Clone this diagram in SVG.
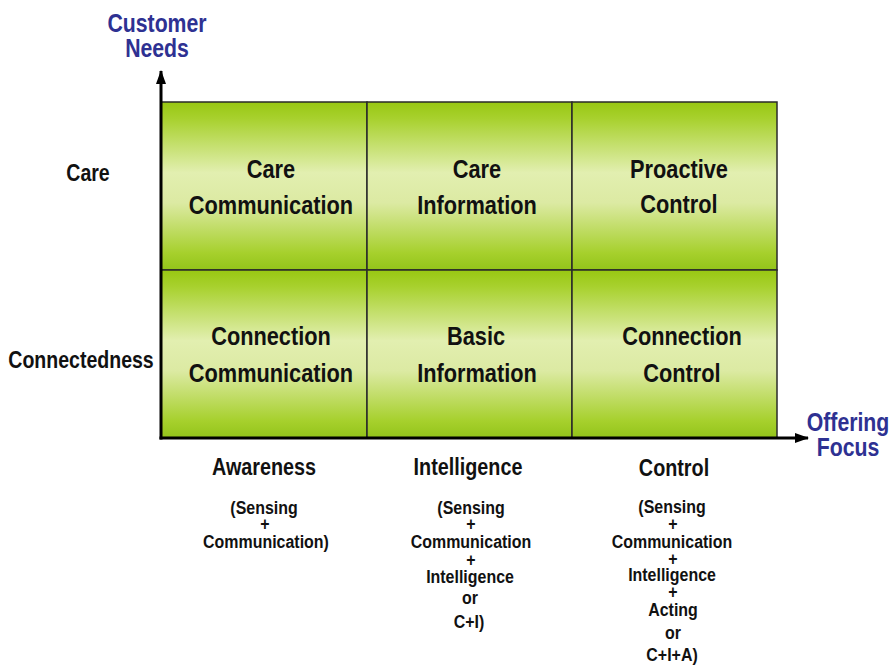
<svg xmlns="http://www.w3.org/2000/svg" width="894" height="670" viewBox="0 0 894 670">
<defs>
<linearGradient id="cellGrad" x1="0" y1="0" x2="0" y2="1">
<stop offset="0" stop-color="#98C712"/>
<stop offset="0.1" stop-color="#A8D12E"/>
<stop offset="0.42" stop-color="#E2EFB0"/>
<stop offset="0.6" stop-color="#DCEAA3"/>
<stop offset="0.9" stop-color="#A6D02C"/>
<stop offset="1" stop-color="#93C41A"/>
</linearGradient>
<marker id="arrow" viewBox="0 0 14 10" refX="13" refY="5" markerWidth="14" markerHeight="10" markerUnits="userSpaceOnUse" orient="auto">
<path d="M0,0 L14,5 L0,10 Z" fill="#000"/>
</marker>
<style>
.cell { fill: url(#cellGrad); stroke: #2a2a2a; stroke-width: 1.5; }
.t { font-family: "Liberation Sans", Arial, sans-serif; font-weight: bold; fill: #111; text-anchor: middle; }
.big { font-size: 25px; }
.lab { font-size: 23px; }
.sm { font-size: 19px; }
.blue { font-family: "Liberation Sans", Arial, sans-serif; font-weight: bold; fill: #2E3192; text-anchor: middle; font-size: 25px; }
.axis { stroke: #000; stroke-width: 3; fill: none; marker-end: url(#arrow); }
</style>
</defs>
<rect width="894" height="670" fill="#fff"/>

<g id="cell-care-communication">
<rect class="cell" x="161" y="102" width="206" height="168"/>
<text class="t big" transform="matrix(0.87,0,0,1,271,178)">Care</text>
<text class="t big" transform="matrix(0.87,0,0,1,271,214)">Communication</text>
</g>
<g id="cell-care-information">
<rect class="cell" x="367" y="102" width="205" height="168"/>
<text class="t big" transform="matrix(0.87,0,0,1,477,178)">Care</text>
<text class="t big" transform="matrix(0.87,0,0,1,477,214)">Information</text>
</g>
<g id="cell-proactive-control">
<rect class="cell" x="572" y="102" width="205" height="168"/>
<text class="t big" transform="matrix(0.87,0,0,1,679,178)">Proactive</text>
<text class="t big" transform="matrix(0.87,0,0,1,679,213)">Control</text>
</g>
<g id="cell-connection-communication">
<rect class="cell" x="161" y="270" width="206" height="168"/>
<text class="t big" transform="matrix(0.87,0,0,1,271,345)">Connection</text>
<text class="t big" transform="matrix(0.87,0,0,1,271,382)">Communication</text>
</g>
<g id="cell-basic-information">
<rect class="cell" x="367" y="270" width="205" height="168"/>
<text class="t big" transform="matrix(0.87,0,0,1,476,345)">Basic</text>
<text class="t big" transform="matrix(0.87,0,0,1,477,382)">Information</text>
</g>
<g id="cell-connection-control">
<rect class="cell" x="572" y="270" width="205" height="168"/>
<text class="t big" transform="matrix(0.87,0,0,1,682,345)">Connection</text>
<text class="t big" transform="matrix(0.87,0,0,1,682,382)">Control</text>
</g>

<g id="connectors">
<line class="axis" x1="161" y1="439.5" x2="161" y2="71"/>
<line class="axis" x1="159.5" y1="438" x2="808" y2="438"/>
</g>

<g id="y-axis-title">
<text class="blue" transform="matrix(0.85,0,0,1,157,32)">Customer</text>
<text class="blue" transform="matrix(0.85,0,0,1,157,57)">Needs</text>
</g>
<g id="x-axis-title">
<text class="blue" transform="matrix(0.85,0,0,1,848,431)">Offering</text>
<text class="blue" transform="matrix(0.85,0,0,1,848,456)">Focus</text>
</g>

<g id="row-label-care">
<text class="t lab" transform="matrix(0.85,0,0,1,88,181)">Care</text>
</g>
<g id="row-label-connectedness">
<text class="t lab" transform="matrix(0.85,0,0,1,81,368)">Connectedness</text>
</g>

<g id="col-awareness">
<text class="t lab" transform="matrix(0.86,0,0,1,264,475)">Awareness</text>
<text class="t sm" transform="matrix(0.84,0,0,1,264,514)">(Sensing</text>
<text class="t sm" transform="matrix(0.84,0,0,1,265,530)">+</text>
<text class="t sm" transform="matrix(0.84,0,0,1,266,548)">Communication)</text>
</g>
<g id="col-intelligence">
<text class="t lab" transform="matrix(0.86,0,0,1,468,475)">Intelligence</text>
<text class="t sm" transform="matrix(0.84,0,0,1,471,514)">(Sensing</text>
<text class="t sm" transform="matrix(0.84,0,0,1,471,530)">+</text>
<text class="t sm" transform="matrix(0.84,0,0,1,471,548)">Communication</text>
<text class="t sm" transform="matrix(0.84,0,0,1,471,566)">+</text>
<text class="t sm" transform="matrix(0.84,0,0,1,470,583)">Intelligence</text>
<text class="t sm" transform="matrix(0.84,0,0,1,470,604)">or</text>
<text class="t sm" transform="matrix(0.84,0,0,1,469,628)">C+I)</text>
</g>
<g id="col-control">
<text class="t lab" transform="matrix(0.86,0,0,1,674,476)">Control</text>
<text class="t sm" transform="matrix(0.84,0,0,1,672,513)">(Sensing</text>
<text class="t sm" transform="matrix(0.84,0,0,1,673,530)">+</text>
<text class="t sm" transform="matrix(0.84,0,0,1,672,548)">Communication</text>
<text class="t sm" transform="matrix(0.84,0,0,1,673,565)">+</text>
<text class="t sm" transform="matrix(0.84,0,0,1,672,581)">Intelligence</text>
<text class="t sm" transform="matrix(0.84,0,0,1,673,598)">+</text>
<text class="t sm" transform="matrix(0.84,0,0,1,673,616)">Acting</text>
<text class="t sm" transform="matrix(0.84,0,0,1,673,639)">or</text>
<text class="t sm" transform="matrix(0.84,0,0,1,672,661)">C+I+A)</text>
</g>
</svg>
